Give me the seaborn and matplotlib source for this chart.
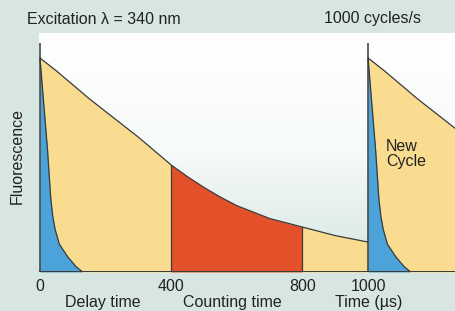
import numpy as np
import pandas as pd
import matplotlib
matplotlib.use("Agg")
import matplotlib.pyplot as plt
import matplotlib.transforms as mtransforms
from matplotlib.colors import LinearSegmentedColormap
import seaborn as sns

# ---- data (fluorescence in % of peak, time in µs) ----
decay_t = [0, 50, 100, 150, 200, 250, 300, 350, 400, 450, 500, 550, 600,
           650, 700, 750, 800, 850, 900, 950, 1000]
decay_v = [100, 94, 87.5, 81, 75, 69, 63, 56.5, 50, 44.5, 39.5, 35, 31,
           28, 25, 23, 21, 19, 17, 15.5, 14]
short_t = [0, 23, 33, 39, 46, 59, 85, 110, 130]
short_v = [100, 57, 34, 26, 20, 13, 7, 2.5, 0]
cycle_starts = [0, 1000]
delay_end = 400
count_end = 800
tick_vals = [0, 400, 800, 1000]
tick_labels = ["0", "400", "800", "1000"]
phase_labels = ["Delay time", "Counting time", "Time (µs)"]
phase_pos = [190, 585, 1003]

sns.set_theme(style="white")
plt.rcParams['font.family'] = ['Liberation Sans', 'DejaVu Sans']

BG = "#d7e6e1"
YELLOW = "#f9dc8f"
RED = "#e2512a"
BLUE = "#4ba3da"
LINE = "#3a3a3a"
TXT = "#222222"
FS = 11.5

fig = plt.figure(figsize=(4.56, 3.11), dpi=100, facecolor=BG)
ax = fig.add_axes([39 / 456, (311 - 272) / 311, 1 - 39 / 456, (272 - 33) / 311])
ax.set_xlim(-3, 1268)
ax.set_ylim(0, 111.7)

# background gradient inside the axes
cmap = LinearSegmentedColormap.from_list("g", ["#ffffff", "#f6faf9", "#d5e6e1"])
grad = np.linspace(0, 1, 256).reshape(-1, 1)
ax.imshow(grad, aspect="auto", cmap=cmap, extent=[-3, 1268, 0, 111.7],
          origin="upper", zorder=0)

dt = np.array(decay_t, dtype=float)
dv = np.array(decay_v, dtype=float)
st = np.array(short_t, dtype=float)
sv = np.array(short_v, dtype=float)

for c0 in cycle_starts:
    t = dt + c0
    if c0 == 0:
        m1 = dt <= delay_end
        m2 = (dt >= delay_end) & (dt <= count_end)
        m3 = dt >= count_end
        ax.fill_between(t[m1], 0, dv[m1], color=YELLOW, lw=0, zorder=1)
        ax.fill_between(t[m2], 0, dv[m2], color=RED, lw=0, zorder=1)
        ax.fill_between(t[m3], 0, dv[m3], color=YELLOW, lw=0, zorder=1)
        for b in (delay_end, count_end):
            yb = dv[dt == b][0]
            ax.plot([b, b], [0, yb], color=LINE, lw=0.9, zorder=3)
    else:
        ax.fill_between(t, 0, dv, color=YELLOW, lw=0, zorder=1)
    ax.fill_between(st + c0, 0, sv, color=BLUE, lw=0, zorder=2)

# outline curves via seaborn
df_decay = pd.concat([pd.DataFrame({"t": dt + c0, "v": dv, "cycle": i})
                      for i, c0 in enumerate(cycle_starts)])
df_short = pd.concat([pd.DataFrame({"t": st + c0, "v": sv, "cycle": i})
                      for i, c0 in enumerate(cycle_starts)])
sns.lineplot(data=df_decay, x="t", y="v", units="cycle", estimator=None,
             color=LINE, lw=0.9, sort=False, ax=ax, zorder=3)
sns.lineplot(data=df_short, x="t", y="v", units="cycle", estimator=None,
             color=LINE, lw=0.9, sort=False, ax=ax, zorder=3)

# excitation pulse lines and baseline
for c0 in cycle_starts:
    ax.plot([c0, c0], [0, 107], color=LINE, lw=1.1, zorder=4,
            solid_capstyle="butt")
ax.axhline(0, color=LINE, lw=1.4, zorder=4)

for s in ax.spines.values():
    s.set_visible(False)
ax.set_xlabel("")
ax.set_ylabel("")
ax.set_yticks([])
ax.set_xticks(tick_vals)
ax.set_xticklabels(tick_labels)
ax.tick_params(axis="x", length=0, pad=5, labelsize=FS, colors=TXT)

trans = mtransforms.blended_transform_factory(ax.transData, fig.transFigure)
for lab, x in zip(phase_labels, phase_pos):
    ax.text(x, 1 - 303 / 311, lab, transform=trans, ha="center", va="center",
            fontsize=FS, color=TXT)

fig.text(27 / 456, 1 - 19 / 311, "Excitation λ = 340 nm", ha="left",
         va="center", fontsize=FS, color=TXT)
fig.text(421 / 456, 1 - 19 / 311, "1000 cycles/s", ha="right",
         va="center", fontsize=FS, color=TXT)
fig.text(17 / 456, 1 - 156 / 311, "Fluorescence", rotation=90, ha="center",
         va="center", fontsize=FS, color=TXT)
fig.text(386 / 456, 1 - 154 / 311, "New\nCycle", ha="left", va="center",
         fontsize=FS, color=TXT, linespacing=0.95)

fig.savefig("out.png", dpi=100, facecolor=BG)
